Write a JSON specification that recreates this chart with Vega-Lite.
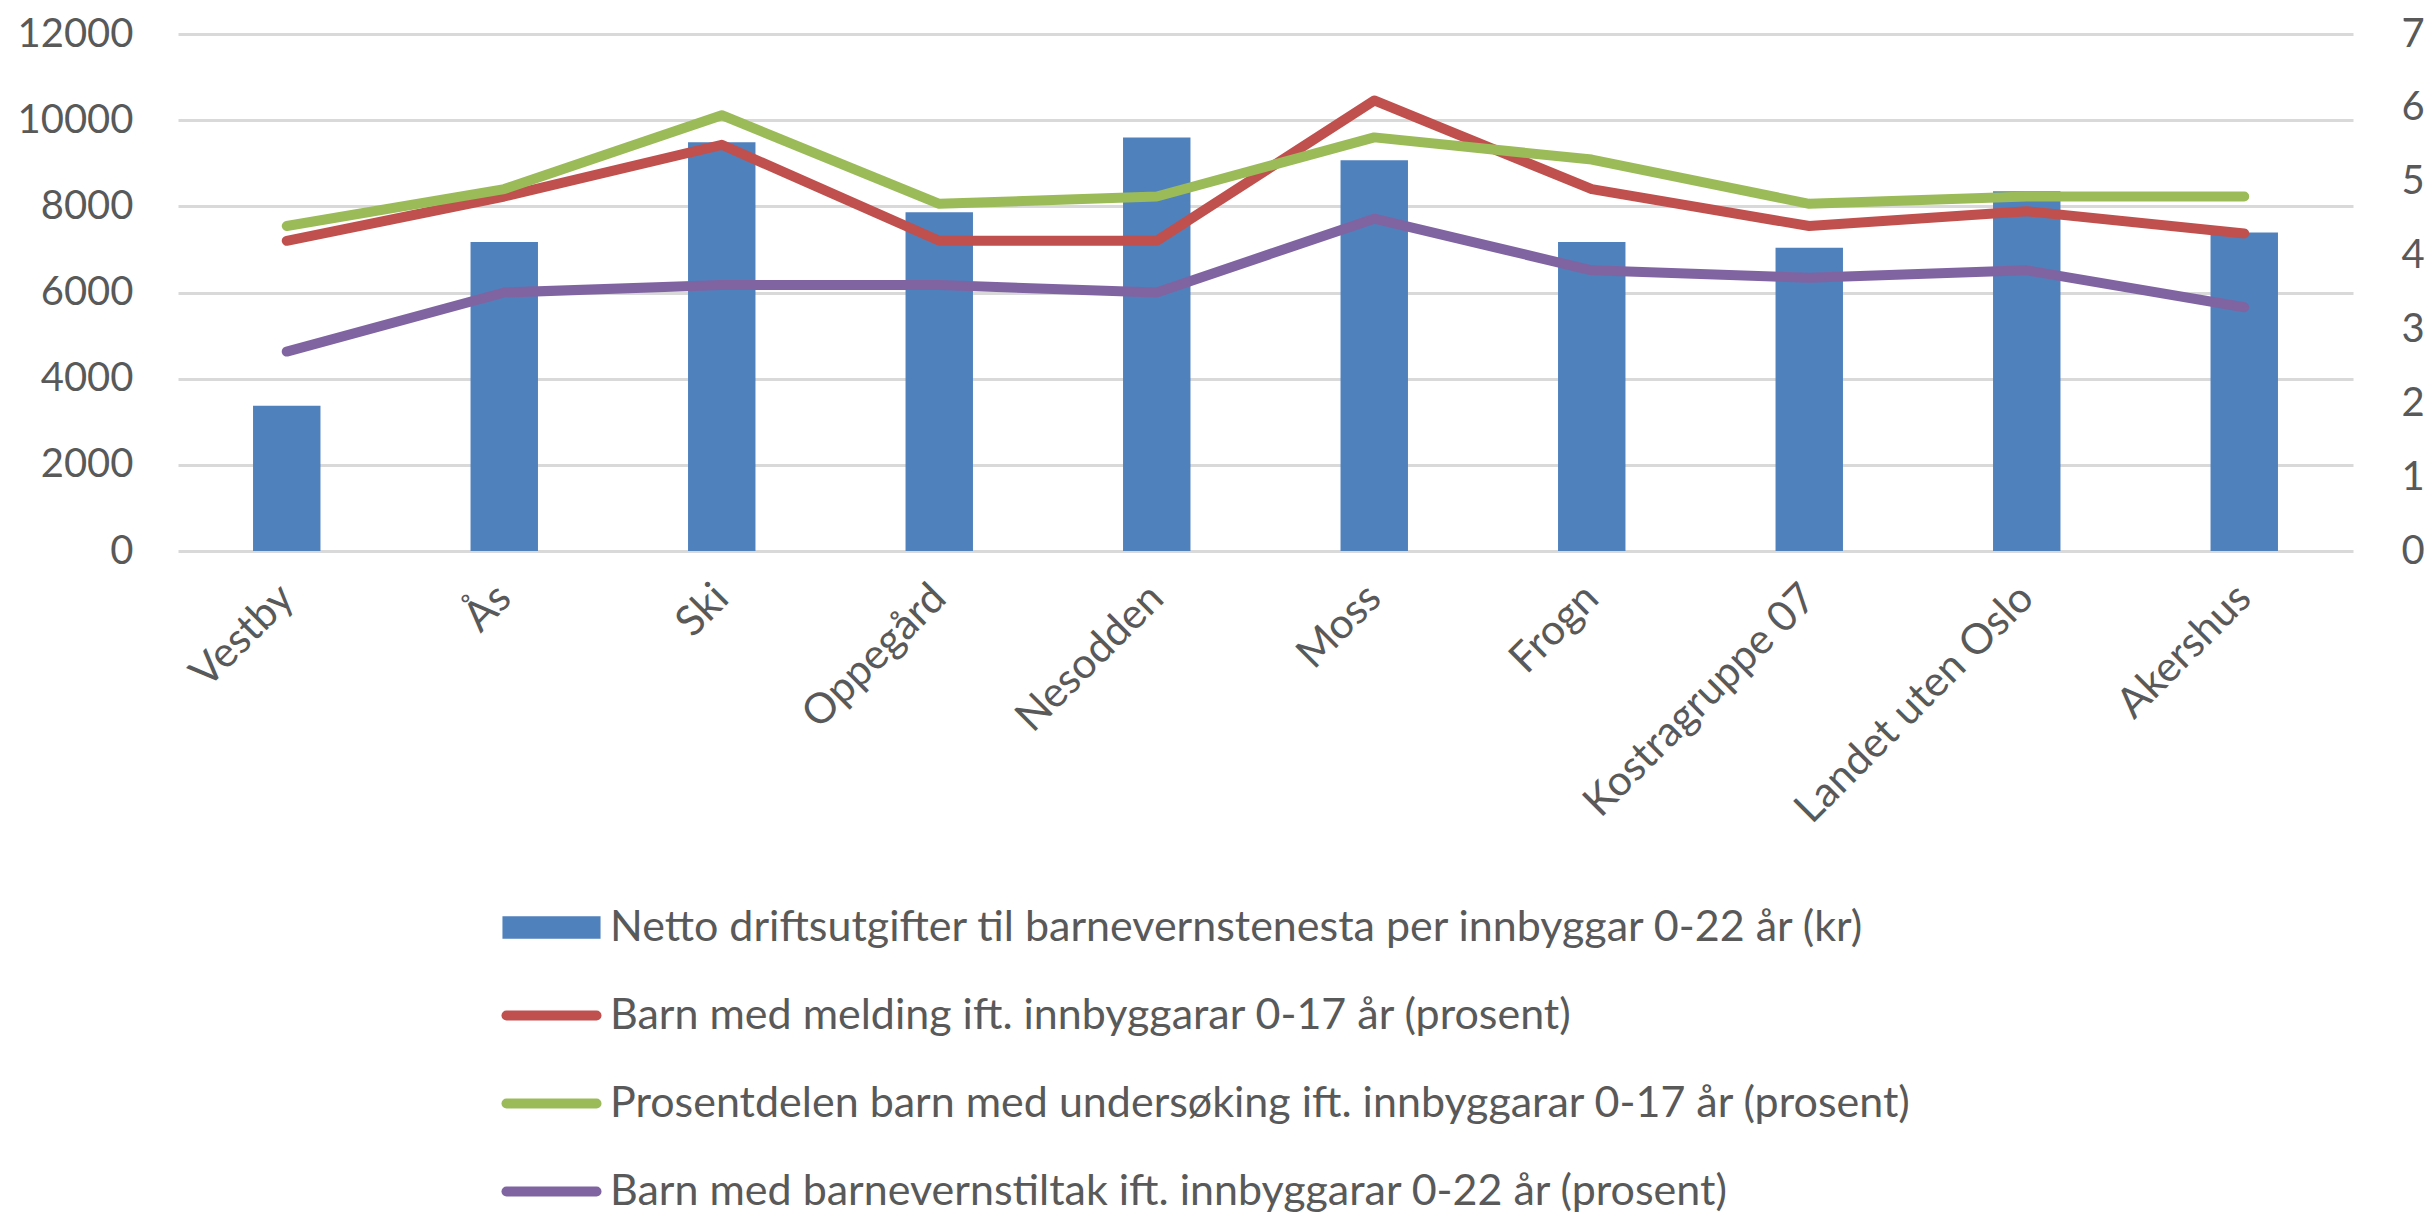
{
  "$schema": "https://vega.github.io/schema/vega-lite/v6.json",
  "width": 2175,
  "height": 517,
  "autosize": {"type": "none"},
  "padding": {"left": 178, "top": 34, "right": 80, "bottom": 668},
  "background": "white",
  "config": {"view": {"stroke": null}, "font": "Lato"},
  "data": {
    "values": [
      {"kategori": "Vestby", "serie": "netto", "verdi": 3370},
      {"kategori": "Ås", "serie": "netto", "verdi": 7170},
      {"kategori": "Ski", "serie": "netto", "verdi": 9490},
      {"kategori": "Oppegård", "serie": "netto", "verdi": 7860},
      {"kategori": "Nesodden", "serie": "netto", "verdi": 9600},
      {"kategori": "Moss", "serie": "netto", "verdi": 9070},
      {"kategori": "Frogn", "serie": "netto", "verdi": 7170},
      {"kategori": "Kostragruppe 07", "serie": "netto", "verdi": 7040},
      {"kategori": "Landet uten Oslo", "serie": "netto", "verdi": 8350},
      {"kategori": "Akershus", "serie": "netto", "verdi": 7390},
      {"kategori": "Vestby", "serie": "melding", "verdi": 4.2},
      {"kategori": "Ås", "serie": "melding", "verdi": 4.8},
      {"kategori": "Ski", "serie": "melding", "verdi": 5.5},
      {"kategori": "Oppegård", "serie": "melding", "verdi": 4.2},
      {"kategori": "Nesodden", "serie": "melding", "verdi": 4.2},
      {"kategori": "Moss", "serie": "melding", "verdi": 6.1},
      {"kategori": "Frogn", "serie": "melding", "verdi": 4.9},
      {"kategori": "Kostragruppe 07", "serie": "melding", "verdi": 4.4},
      {"kategori": "Landet uten Oslo", "serie": "melding", "verdi": 4.6},
      {"kategori": "Akershus", "serie": "melding", "verdi": 4.3},
      {"kategori": "Vestby", "serie": "undersoking", "verdi": 4.4},
      {"kategori": "Ås", "serie": "undersoking", "verdi": 4.9},
      {"kategori": "Ski", "serie": "undersoking", "verdi": 5.9},
      {"kategori": "Oppegård", "serie": "undersoking", "verdi": 4.7},
      {"kategori": "Nesodden", "serie": "undersoking", "verdi": 4.8},
      {"kategori": "Moss", "serie": "undersoking", "verdi": 5.6},
      {"kategori": "Frogn", "serie": "undersoking", "verdi": 5.3},
      {"kategori": "Kostragruppe 07", "serie": "undersoking", "verdi": 4.7},
      {"kategori": "Landet uten Oslo", "serie": "undersoking", "verdi": 4.8},
      {"kategori": "Akershus", "serie": "undersoking", "verdi": 4.8},
      {"kategori": "Vestby", "serie": "tiltak", "verdi": 2.7},
      {"kategori": "Ås", "serie": "tiltak", "verdi": 3.5},
      {"kategori": "Ski", "serie": "tiltak", "verdi": 3.6},
      {"kategori": "Oppegård", "serie": "tiltak", "verdi": 3.6},
      {"kategori": "Nesodden", "serie": "tiltak", "verdi": 3.5},
      {"kategori": "Moss", "serie": "tiltak", "verdi": 4.5},
      {"kategori": "Frogn", "serie": "tiltak", "verdi": 3.8},
      {"kategori": "Kostragruppe 07", "serie": "tiltak", "verdi": 3.7},
      {"kategori": "Landet uten Oslo", "serie": "tiltak", "verdi": 3.8},
      {"kategori": "Akershus", "serie": "tiltak", "verdi": 3.3}
    ]
  },
  "encoding": {
    "x": {
      "field": "kategori",
      "type": "nominal",
      "sort": null,
      "scale": {"paddingInner": 0, "paddingOuter": 0},
      "axis": {
        "title": null,
        "labelAngle": -45,
        "labelAlign": "right",
        "labelBaseline": "middle",
        "labelPadding": 40,
        "labelFont": "Lato",
        "labelFontSize": 42,
        "labelColor": "#595959",
        "labelLimit": 0,
        "domain": false,
        "ticks": false,
        "grid": false
      }
    },
    "color": {
      "field": "serie",
      "type": "nominal",
      "scale": {
        "domain": ["netto", "melding", "undersoking", "tiltak"],
        "range": ["#4F81BD", "#C0504D", "#9BBB59", "#8064A2"]
      },
      "legend": {
        "title": null,
        "orient": "none",
        "legendX": 352,
        "legendY": 872,
        "direction": "vertical",
        "padding": 0,
        "labelFont": "Lato",
        "labelFontSize": 43,
        "labelColor": "#595959",
        "labelLimit": 0,
        "labelOffset": 37,
        "symbolSize": 900,
        "rowPadding": 44,
        "labelExpr": "datum.value == 'netto' ? 'Netto driftsutgifter til barnevernstenesta per innbyggar 0-22 år (kr)' : datum.value == 'melding' ? 'Barn med melding ift. innbyggarar 0-17 år (prosent)' : datum.value == 'undersoking' ? 'Prosentdelen barn med undersøking ift. innbyggarar 0-17 år (prosent)' : 'Barn med barnevernstiltak ift. innbyggarar 0-22 år (prosent)'",
        "encode": {
          "symbols": {
            "update": {
              "shape": {"signal": "datum.value == 'netto' ? 'M-3.27,-0.75H3.27V0.75H-3.27Z' : 'M-3,0H3'"},
              "fill": {"signal": "datum.value == 'netto' ? scale('color', datum.value) : 'transparent'"},
              "stroke": {"signal": "datum.value == 'netto' ? 'transparent' : scale('color', datum.value)"},
              "strokeWidth": {"signal": "datum.value == 'netto' ? 0 : 10"},
              "strokeCap": {"value": "round"},
              "opacity": {"value": 1}
            }
          }
        }
      }
    }
  },
  "layer": [
    {
      "transform": [{"filter": "datum.serie == 'netto'"}],
      "mark": {"type": "bar", "width": {"band": 0.31}},
      "encoding": {
        "y": {
          "field": "verdi",
          "type": "quantitative",
          "scale": {"domain": [0, 12000], "nice": false},
          "axis": {
            "title": null,
            "orient": "left",
            "values": [0, 2000, 4000, 6000, 8000, 10000, 12000],
            "format": "d",
            "grid": true,
            "gridColor": "#d9d9d9",
            "gridWidth": 3,
            "domain": false,
            "ticks": false,
            "labelPadding": 45,
            "labelFont": "Lato",
            "labelFontSize": 40,
            "labelColor": "#595959"
          }
        }
      }
    },
    {
      "transform": [{"filter": "datum.serie != 'netto'"}],
      "mark": {"type": "line", "strokeWidth": 10, "strokeCap": "round", "strokeJoin": "round"},
      "encoding": {
        "y": {
          "field": "verdi",
          "type": "quantitative",
          "scale": {"domain": [0, 7], "nice": false},
          "axis": {
            "title": null,
            "orient": "right",
            "values": [0, 1, 2, 3, 4, 5, 6, 7],
            "format": "d",
            "grid": false,
            "domain": false,
            "ticks": false,
            "labelPadding": 48,
            "labelFont": "Lato",
            "labelFontSize": 40,
            "labelColor": "#595959"
          }
        }
      }
    }
  ],
  "resolve": {"scale": {"y": "independent"}}
}
